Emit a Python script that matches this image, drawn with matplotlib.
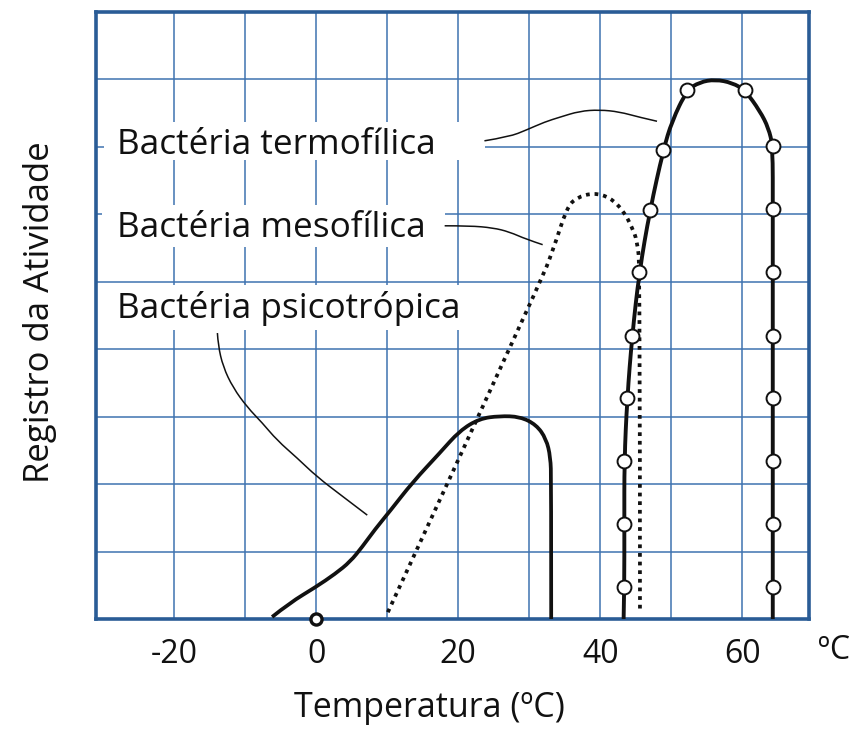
import matplotlib
matplotlib.use("Agg")
import matplotlib.pyplot as plt
from matplotlib.patches import Rectangle, PathPatch
from matplotlib.path import Path

plt.rcParams['font.family'] = ['Open Sans', 'DejaVu Sans']

# Curva da bactéria psicotrópica (linha contínua)
psico_x = [-6.2, -3.7, -0.1, 2.7, 4.8, 6.5, 8.3, 10.4, 13.6, 17.4, 20.2, 23.0,
           25.8, 28.7, 31.0, 32.4, 33.0, 33.1, 33.1]
psico_y = [0.03, 0.24, 0.47, 0.67, 0.85, 1.07, 1.33, 1.60, 2.03, 2.46, 2.79, 2.97,
           3.01, 3.00, 2.88, 2.67, 2.40, 2.06, 0.0]

# Curva da bactéria mesofílica (pontilhada)
meso_x = [10.1, 31.5, 33.4, 35.3, 36.7, 39.1, 41.4, 43.3, 44.5, 45.2, 45.6, 45.6]
meso_y = [0.1, 4.97, 5.48, 6.10, 6.25, 6.32, 6.25, 6.05, 5.80, 5.61, 5.21, 0.15]

# Curva da bactéria termofílica (contínua, com marcadores)
termo_x = [43.3, 43.4, 43.4, 43.4, 43.8, 44.5, 45.5, 47.0, 48.9, 50.1, 52.2, 54.0,
           56.2, 58.6, 60.4, 62.5, 63.7, 64.3, 64.3, 64.3, 64.3, 64.3, 64.3, 64.3,
           64.3, 64.3]
termo_y = [0.0, 0.48, 1.41, 2.34, 3.27, 4.20, 5.14, 6.06, 6.96, 7.38, 7.84, 7.96,
           8.0, 7.95, 7.84, 7.53, 7.28, 7.01, 6.08, 5.15, 4.20, 3.27, 2.34, 1.41,
           0.47, 0.0]
marc_x = [43.4, 43.4, 43.4, 43.8, 44.5, 45.5, 47.0, 48.9, 52.2,
          60.4, 64.3, 64.3, 64.3, 64.3, 64.3, 64.3, 64.3, 64.3]
marc_y = [0.48, 1.41, 2.34, 3.27, 4.20, 5.14, 6.06, 6.96, 7.84,
          7.84, 7.01, 6.08, 5.15, 4.20, 3.27, 2.34, 1.41, 0.47]

# Linhas de chamada dos rótulos
guia_termo_x = [23.7, 27.2, 29.6, 32.2, 34.3, 37.1, 39.9, 42.7, 45.5, 48.0]
guia_termo_y = [7.09, 7.15, 7.25, 7.37, 7.44, 7.53, 7.55, 7.52, 7.44, 7.38]
guia_meso_x = [18.1, 21.6, 24.9, 27.2, 29.6, 31.9]
guia_meso_y = [5.83, 5.83, 5.80, 5.74, 5.63, 5.55]
guia_psico_x = [-13.9, -13.8, -13.1, -11.7, -9.7, -7.6, -5.5, -2.7, 0.1, 3.7, 7.2]
guia_psico_y = [4.24, 4.06, 3.74, 3.43, 3.14, 2.91, 2.65, 2.39, 2.11, 1.82, 1.54]

rotulos = ["Bactéria termofílica", "Bactéria mesofílica", "Bactéria psicotrópica"]
rotulo_y = [6.89, 5.66, 4.47]

ticks_x = [-20, 0, 20, 40, 60]

azul_grade = '#3f73b0'
azul_borda = '#2a5c96'
preto = '#111111'


def curva_suave(xs, ys):
    # B-spline quadrática: cada ponto lido vira controle, a curva passa pelos pontos médios
    verts = [(xs[0], ys[0])]
    codes = [Path.MOVETO]
    n = len(xs)
    if n == 2:
        verts.append((xs[1], ys[1]))
        codes.append(Path.LINETO)
        return Path(verts, codes)
    for i in range(1, n - 1):
        if i < n - 2:
            fim = ((xs[i] + xs[i + 1]) / 2, (ys[i] + ys[i + 1]) / 2)
        else:
            fim = (xs[i + 1], ys[i + 1])
        verts += [(xs[i], ys[i]), fim]
        codes += [Path.CURVE3, Path.CURVE3]
    return Path(verts, codes)


def desenha(ax, xs, ys, **kw):
    patch = PathPatch(curva_suave(xs, ys), fill=False, **kw)
    ax.add_patch(patch)
    return patch


fig = plt.figure(figsize=(8.53, 7.32), dpi=100)
ax = fig.add_axes([0.1125, 0.1544, 0.8359, 0.8292])
ax.set_xlim(-31.0, 69.4)
ax.set_ylim(0, 9)

# grade azul
for gx in range(-20, 61, 10):
    ax.axvline(gx, color=azul_grade, lw=1.1, zorder=0)
for gy in range(1, 9):
    ax.axhline(gy, color=azul_grade, lw=1.1, zorder=0)

for s in ax.spines.values():
    s.set_color(azul_borda)
    s.set_linewidth(2.6)

# fundos brancos atrás dos rótulos
caixas = [(-29.9, 6.81, 53.7, 0.56), (-30.1, 5.51, 48.3, 0.63), (-30.1, 4.29, 51.8, 0.66)]
for (bx, by, bw, bh) in caixas:
    ax.add_patch(Rectangle((bx, by), bw, bh, facecolor='white', edgecolor='none', zorder=1))

desenha(ax, psico_x, psico_y, edgecolor=preto, lw=2.7, joinstyle='round', zorder=3)
desenha(ax, meso_x, meso_y, edgecolor=preto, lw=2.7, linestyle=(0, (1, 1.3)), zorder=3)
desenha(ax, termo_x, termo_y, edgecolor=preto, lw=2.8, joinstyle='round', zorder=3)
ax.plot(marc_x, marc_y, 'o', ms=10, mfc='white', mec=preto, mew=1.4, zorder=4)

for gx, gy in [(guia_termo_x, guia_termo_y), (guia_meso_x, guia_meso_y), (guia_psico_x, guia_psico_y)]:
    desenha(ax, gx, gy, edgecolor=preto, lw=1.1, zorder=3)

for txt, ty in zip(rotulos, rotulo_y):
    ax.text(-28.0, ty, txt, fontsize=25.3, color=preto, va='baseline', ha='left', zorder=5)

# marcador do zero no eixo
ax.plot([0], [0], 'o', ms=8, mfc='white', mec=preto, mew=2.4, clip_on=False, zorder=6)

ax.set_xticks(ticks_x)
ax.set_xticklabels([str(t) for t in ticks_x])
ax.set_yticks([])
ax.tick_params(axis='x', length=0, pad=14, labelsize=23, labelcolor=preto)
ax.text(73.0, -0.47, 'ºC', fontsize=23, color=preto, ha='center', va='center', clip_on=False)

ax.set_xlabel('Temperatura (ºC)', fontsize=24.5, color=preto)
ax.xaxis.set_label_coords(0.467, -0.118)
ax.set_ylabel('Registro da Atividade', fontsize=25, color=preto)
ax.yaxis.set_label_coords(-0.078, 0.505)
ax.yaxis.label.set_va('center')

fig.savefig('out.png', dpi=100)
